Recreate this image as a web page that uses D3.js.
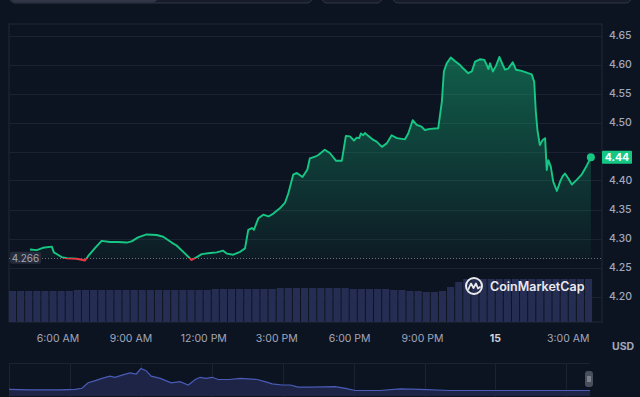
<!DOCTYPE html>
<html>
<head>
<meta charset="utf-8">
<script src="https://cdn.jsdelivr.net/npm/d3@7/dist/d3.min.js"></script>
<style>
  html, body { margin: 0; padding: 0; background: #0d1421; }
  svg { display: block; font-family: Inter, "Noto Sans", sans-serif; }
</style>
</head>
<body>
<svg id="chart" width="640" height="397"></svg>
<script>
// price line, 14th -> 15th
const priceTimes = [
  '14 04:52', '14 05:09', '14 05:24', '14 05:46', '14 05:51', '14 06:01', '14 06:10', '14 06:23',
  '14 06:47', '14 07:08', '14 07:15', '14 07:33', '14 07:49', '14 08:10', '14 08:29', '14 08:51',
  '14 09:03', '14 09:19', '14 09:40', '14 10:05', '14 10:21', '14 10:42', '14 10:54', '14 11:15',
  '14 11:31', '14 11:44', '14 11:56', '14 12:17', '14 12:33', '14 12:49', '14 12:58', '14 13:14',
  '14 13:31', '14 13:43', '14 13:51', '14 14:00', '14 14:05', '14 14:16', '14 14:28', '14 14:41',
  '14 14:53', '14 15:09', '14 15:22', '14 15:30', '14 15:42', '14 15:51', '14 16:05', '14 16:17',
  '14 16:23', '14 16:36', '14 16:44', '14 17:00', '14 17:13', '14 17:28', '14 17:42', '14 17:52',
  '14 18:02', '14 18:12', '14 18:19', '14 18:25', '14 18:29', '14 18:35', '14 18:39', '14 18:47',
  '14 19:00', '14 19:08', '14 19:21', '14 19:33', '14 19:45', '14 19:58', '14 20:18', '14 20:26',
  '14 20:37', '14 20:47', '14 20:59', '14 21:07', '14 21:20', '14 21:40', '14 21:49', '14 21:54',
  '14 22:01', '14 22:11', '14 22:21', '14 22:34', '14 22:42', '14 22:54', '14 23:03', '14 23:11',
  '14 23:23', '14 23:34', '14 23:40', '14 23:44', '14 23:48', '14 23:55', '15 00:03', '15 00:11',
  '15 00:19', '15 00:25', '15 00:33', '15 00:44', '15 00:52', '15 01:06', '15 01:22', '15 01:31',
  '15 01:37', '15 01:41', '15 01:45', '15 01:51', '15 01:58', '15 02:04', '15 02:08', '15 02:12',
  '15 02:18', '15 02:24', '15 02:33', '15 02:41', '15 02:47', '15 02:53', '15 03:01', '15 03:10',
  '15 03:22', '15 03:34', '15 03:47', '15 03:57'
];
const priceValues = [
  4.281, 4.280, 4.284, 4.286, 4.276, 4.272, 4.268, 4.266,
  4.265, 4.262, 4.269, 4.284, 4.296, 4.294, 4.294, 4.293,
  4.295, 4.302, 4.307, 4.306, 4.303, 4.293, 4.288, 4.274,
  4.263, 4.268, 4.273, 4.275, 4.276, 4.279, 4.274, 4.272,
  4.277, 4.283, 4.315, 4.318, 4.315, 4.335, 4.341, 4.338,
  4.343, 4.352, 4.362, 4.378, 4.410, 4.413, 4.406, 4.419,
  4.438, 4.441, 4.444, 4.453, 4.447, 4.434, 4.434, 4.477,
  4.476, 4.469, 4.474, 4.473, 4.481, 4.478, 4.482, 4.477,
  4.470, 4.467, 4.458, 4.464, 4.478, 4.473, 4.471, 4.481,
  4.504, 4.496, 4.493, 4.487, 4.489, 4.490, 4.536, 4.588,
  4.602, 4.612, 4.606, 4.599, 4.593, 4.585, 4.588, 4.605,
  4.609, 4.608, 4.599, 4.592, 4.602, 4.588, 4.598, 4.613,
  4.600, 4.591, 4.593, 4.604, 4.591, 4.589, 4.585, 4.583,
  4.570, 4.519, 4.487, 4.461, 4.470, 4.473, 4.418, 4.435,
  4.424, 4.398, 4.382, 4.398, 4.407, 4.412, 4.404, 4.393,
  4.401, 4.410, 4.426, 4.440
];
const openPrice = 4.266;
const lastPriceLabel = '4.44';

// volume (millions), one bar per 20 min from 04:00
const volumeValues = [
  31, 31, 31, 31, 31, 31, 31, 31, 32, 32, 32, 32, 32, 32, 32, 32, 32, 32, 32, 32, 32,
  32, 32, 32, 32, 33, 33, 33, 33, 33,
  33, 33, 33, 34, 34, 34, 34, 34, 34, 34, 34, 34, 33, 33, 33, 33, 33, 32, 32, 31, 31,
  30, 30, 31, 35, 40,
  43, 43, 43, 43, 43, 43, 43, 43, 43, 43, 43, 43, 43, 43, 43, 43
];

// navigator series
const navTimes = [
  '14 03:25', '14 04:19', '14 05:35', '14 06:13', '14 06:30', '14 06:46', '14 07:04', '14 07:21',
  '14 07:41', '14 07:54', '14 08:12', '14 08:32', '14 08:48', '14 09:00', '14 09:13', '14 09:26',
  '14 09:49', '14 10:17', '14 10:39', '14 11:00', '14 11:18', '14 11:30', '14 11:45', '14 12:01',
  '14 12:16', '14 12:44', '14 13:12', '14 13:55', '14 14:15', '14 14:33', '14 14:59', '14 15:19',
  '14 15:39', '14 16:10', '14 17:13', '14 17:39', '14 18:04', '14 19:07', '14 19:58', '14 20:49',
  '14 22:03', '15 00:12', '15 02:45', '15 04:00'
];
const navValues = [
  6, 5.5, 5.5, 6, 7, 12, 14, 16,
  18, 17, 19, 21, 20, 25, 23, 18,
  16, 12, 13, 10, 15, 17, 16, 17,
  15, 15, 16, 15, 13, 11, 10, 10,
  8, 8, 8.5, 7, 5, 5, 6.5, 6,
  5, 5, 5, 5
];

const xTickTimes = ['14 06:00', '14 09:00', '14 12:00', '14 15:00', '14 18:00', '14 21:00', '15 00:00', '15 03:00'];
const yTicks = [4.20, 4.25, 4.30, 4.35, 4.40, 4.45, 4.50, 4.55, 4.60, 4.65];
// 4.45 sits under the last-price tag
const yTickLabels = [4.20, 4.25, 4.30, 4.35, 4.40, 4.50, 4.55, 4.60, 4.65];

const parse = d3.timeParse('%d %H:%M');
const green = '#16c784';
const red = '#ea3943';
const gridColor = '#1c2231';
const textColor = '#a1a7bb';

const svg = d3.select('#chart');
const defs = svg.append('defs');

const plotLeft = 9, plotRight = 602, plotTop = 24, plotBottom = 322;

const x = d3.scaleTime()
  .domain([parse('14 04:00'), parse('15 04:00')])
  .range([8.9, 592.1]);
const y = d3.scaleLinear()
  .domain([4.20, 4.65])
  .range([296.5, 35.5]);
const vol = d3.scaleLinear().domain([0, 43]).range([plotBottom, 279]);

const data = priceTimes.map((t, i) => ({ t: parse(t), v: priceValues[i] }));
const baseY = y(openPrice);

// top toolbar boxes
const toolbar = svg.append('g');
toolbar.append('rect').attr('x', 10).attr('y', -12).attr('width', 302).attr('height', 15).attr('rx', 5)
  .attr('fill', '#171c2a').attr('stroke', '#323546');
toolbar.append('rect').attr('x', 10.5).attr('y', -12).attr('width', 147).attr('height', 14.5).attr('rx', 5)
  .attr('fill', '#323546');
toolbar.append('rect').attr('x', 322).attr('y', -12).attr('width', 60).attr('height', 15).attr('rx', 5)
  .attr('fill', '#171c2a').attr('stroke', '#323546');
toolbar.append('rect').attr('x', 393).attr('y', -12).attr('width', 238).attr('height', 15).attr('rx', 5)
  .attr('fill', '#171c2a').attr('stroke', '#323546');

// frame + grid
svg.append('rect')
  .attr('x', plotLeft).attr('y', plotTop)
  .attr('width', plotRight - plotLeft).attr('height', plotBottom - plotTop)
  .attr('fill', 'none').attr('stroke', '#222836');

svg.append('g')
  .selectAll('line')
  .data(yTicks)
  .join('line')
  .attr('x1', plotLeft).attr('x2', plotRight)
  .attr('y1', d => Math.round(y(d)) + 0.5).attr('y2', d => Math.round(y(d)) + 0.5)
  .attr('stroke', gridColor);

// volume bars
const band = d3.scaleBand()
  .domain(d3.range(volumeValues.length))
  .range([x(parse('14 04:00')), x(parse('15 04:00'))])
  .paddingInner(0.12);
svg.append('g')
  .selectAll('rect')
  .data(volumeValues)
  .join('rect')
  .attr('x', (d, i) => band(i))
  .attr('width', band.bandwidth())
  .attr('y', d => vol(d))
  .attr('height', d => plotBottom - vol(d))
  .attr('fill', '#252d52');

// gradients split at the open price
const strokeGrad = defs.append('linearGradient')
  .attr('id', 'strokeGrad').attr('gradientUnits', 'userSpaceOnUse')
  .attr('x1', 0).attr('x2', 0).attr('y1', 0).attr('y2', 397);
strokeGrad.append('stop').attr('offset', baseY / 397).attr('stop-color', green);
strokeGrad.append('stop').attr('offset', baseY / 397).attr('stop-color', red);

const fillGrad = defs.append('linearGradient')
  .attr('id', 'fillGrad').attr('gradientUnits', 'userSpaceOnUse')
  .attr('x1', 0).attr('x2', 0).attr('y1', y(4.62)).attr('y2', baseY + 10);
const fStop = (baseY - y(4.62)) / (baseY + 10 - y(4.62));
fillGrad.append('stop').attr('offset', 0).attr('stop-color', green).attr('stop-opacity', 0.42);
fillGrad.append('stop').attr('offset', fStop).attr('stop-color', green).attr('stop-opacity', 0.04);
fillGrad.append('stop').attr('offset', fStop).attr('stop-color', red).attr('stop-opacity', 0.1);
fillGrad.append('stop').attr('offset', 1).attr('stop-color', red).attr('stop-opacity', 0.3);

const area = d3.area()
  .x(d => x(d.t))
  .y0(baseY)
  .y1(d => y(d.v));
svg.append('path')
  .datum(data)
  .attr('d', area)
  .attr('fill', 'url(#fillGrad)');

// open price dotted line
svg.append('line')
  .attr('x1', plotLeft).attr('x2', plotRight)
  .attr('y1', Math.round(baseY) + 0.5).attr('y2', Math.round(baseY) + 0.5)
  .attr('stroke', '#6b7283').attr('stroke-dasharray', '1,2');

const line = d3.line()
  .x(d => x(d.t))
  .y(d => y(d.v));
svg.append('path')
  .datum(data)
  .attr('d', line)
  .attr('fill', 'none')
  .attr('stroke', 'url(#strokeGrad)')
  .attr('stroke-width', 1.9)
  .attr('stroke-linejoin', 'round');

const last = data[data.length - 1];
svg.append('circle')
  .attr('cx', x(last.t)).attr('cy', y(last.v)).attr('r', 4)
  .attr('fill', green);

// open price tag
svg.append('rect')
  .attr('x', 10).attr('y', baseY - 6.5).attr('width', 31).attr('height', 12).attr('rx', 2)
  .attr('fill', '#262b3a');
svg.append('text')
  .attr('x', 25.5).attr('y', baseY).attr('dy', '0.35em')
  .attr('text-anchor', 'middle')
  .attr('font-size', 10).attr('fill', textColor)
  .text(openPrice.toFixed(3));

// y axis on the right
const yAxis = d3.axisRight(y).tickValues(yTickLabels).tickFormat(d3.format('.2f')).tickSize(0).tickPadding(0);
svg.append('g')
  .attr('transform', 'translate(609,0)')
  .call(yAxis)
  .call(g => g.select('.domain').remove())
  .call(g => g.selectAll('text').attr('fill', textColor).attr('font-size', 10.5).attr('font-weight', 500)
    .attr('font-family', 'Inter, sans-serif'));

// last price tag
svg.append('rect')
  .attr('x', 602).attr('y', y(last.v) - 6.5).attr('width', 30).attr('height', 13).attr('rx', 1)
  .attr('fill', green);
svg.append('text')
  .attr('x', 617).attr('y', y(last.v)).attr('dy', '0.36em')
  .attr('text-anchor', 'middle')
  .attr('font-size', 10.5).attr('font-weight', 700).attr('fill', '#ffffff')
  .text(lastPriceLabel);

// x axis
const fmt = d => d.getHours() === 0 ? d3.timeFormat('%-d')(d) : d3.timeFormat('%-I:%M %p')(d);
svg.append('g')
  .attr('transform', `translate(0,${plotBottom + 5})`)
  .call(d3.axisBottom(x).tickValues(xTickTimes.map(parse)).tickFormat(fmt).tickSize(0).tickPadding(8))
  .call(g => g.select('.domain').remove())
  .call(g => g.selectAll('text')
    .attr('fill', d => d.getHours() === 0 ? '#cfd3de' : textColor)
    .attr('font-weight', d => d.getHours() === 0 ? 700 : 400)
    .attr('font-size', 10.5)
    .attr('font-family', 'Inter, sans-serif'));

svg.append('text')
  .attr('x', 612).attr('y', 346).attr('dy', '0.35em')
  .attr('font-size', 10.5).attr('font-weight', 700).attr('fill', textColor)
  .text('USD');

// watermark
const wm = svg.append('g').attr('opacity', 0.9);
wm.append('circle').attr('cx', 474).attr('cy', 286).attr('r', 8)
  .attr('fill', 'none').attr('stroke', '#ffffff').attr('stroke-width', 2);
wm.append('path')
  .attr('d', 'M468.5,289 L471,283.5 L473.5,288 L476,283.5 L478,288.5 L480,287')
  .attr('fill', 'none').attr('stroke', '#ffffff').attr('stroke-width', 1.8)
  .attr('stroke-linejoin', 'round').attr('stroke-linecap', 'round');
wm.append('text')
  .attr('x', 490).attr('y', 286).attr('dy', '0.36em')
  .attr('font-size', 12.5).attr('font-weight', 600).attr('fill', '#ffffff')
  .text('CoinMarketCap');

// navigator
const navTop = 363, navBottom = 396;
const nx = d3.scaleTime()
  .domain([parse('14 03:25'), parse('15 04:00')])
  .range([9, 590]);
const ny = d3.scaleLinear().domain([0, 30]).range([navBottom, navTop]);
const navData = navTimes.map((t, i) => ({ t: parse(t), v: navValues[i] }));

svg.append('line')
  .attr('x1', 9).attr('x2', 590).attr('y1', navTop + 0.5).attr('y2', navTop + 0.5)
  .attr('stroke', gridColor);
svg.append('g')
  .selectAll('line')
  .data(nx.ticks(d3.timeHour.every(3)).filter(d => nx(d) > 20))
  .join('line')
  .attr('x1', d => Math.round(nx(d)) + 0.5).attr('x2', d => Math.round(nx(d)) + 0.5)
  .attr('y1', navTop).attr('y2', 397)
  .attr('stroke', gridColor);
svg.append('line')
  .attr('x1', 9.5).attr('x2', 9.5).attr('y1', navTop).attr('y2', 397)
  .attr('stroke', gridColor);

svg.append('path')
  .datum(navData)
  .attr('d', d3.area().x(d => nx(d.t)).y0(navBottom).y1(d => ny(d.v)))
  .attr('fill', '#1d2446');
svg.append('path')
  .datum(navData)
  .attr('d', d3.line().x(d => nx(d.t)).y(d => ny(d.v)))
  .attr('fill', 'none').attr('stroke', '#4a5cb8').attr('stroke-width', 1.2);

// navigator handle
svg.append('rect')
  .attr('x', 585).attr('y', 371).attr('width', 8).attr('height', 16).attr('rx', 3)
  .attr('fill', '#4a4f5c');
svg.append('path')
  .attr('d', 'M588,376 V382 M590,376 V382')
  .attr('stroke', '#c9ccd4').attr('stroke-width', 0.8);
</script>
</body>
</html>
